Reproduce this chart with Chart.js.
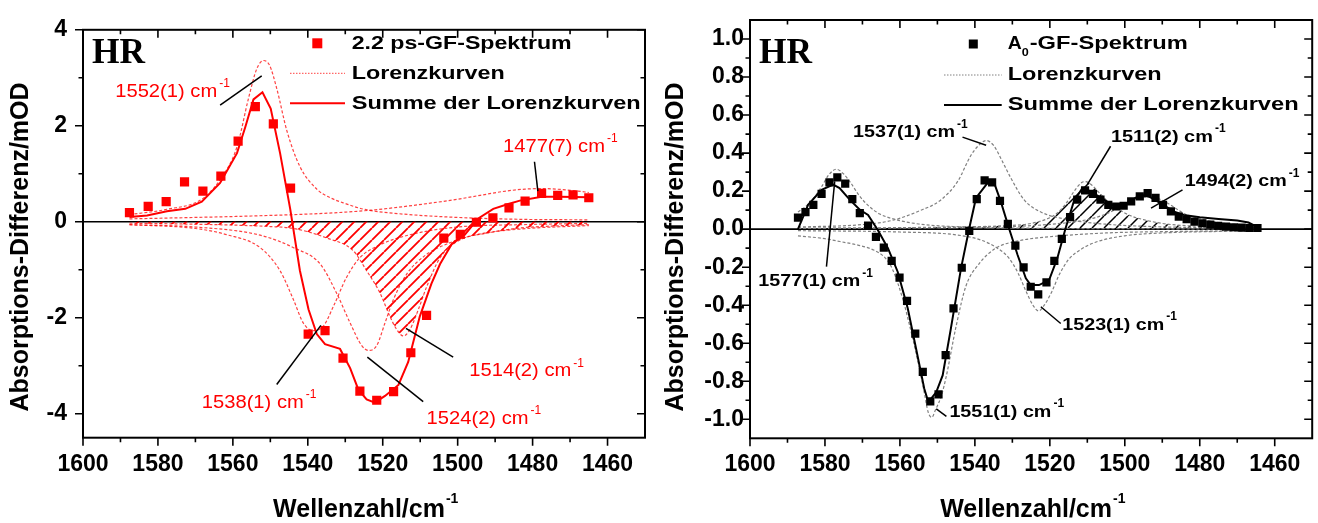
<!DOCTYPE html>
<html>
<head>
<meta charset="utf-8">
<script src="https://cdn.jsdelivr.net/npm/chart.js"></script>
<style>
  html, body { margin: 0; padding: 0; background: #fff; }
  #wrap { position: relative; width: 1318px; height: 523px; overflow: hidden; }
  canvas { position: absolute; top: 0; }
</style>
</head>
<body>
<div id="wrap">
  <canvas id="left" width="660" height="523" style="left:0"></canvas>
  <canvas id="right" width="658" height="523" style="left:660px"></canvas>
</div>
<script>
// ---- axis ticks ----
const xTicks = [1600, 1580, 1560, 1540, 1520, 1500, 1480, 1460];
const xMinor = [1590, 1570, 1550, 1530, 1510, 1490, 1470];
const leftYTicks = [4, 2, 0, -2, -4];
const leftYMinor = [3, 1, -1, -3];
const rightYTicks = [1.0, 0.8, 0.6, 0.4, 0.2, 0.0, -0.2, -0.4, -0.6, -0.8, -1.0];
const rightYMinor = [0.9, 0.7, 0.5, 0.3, 0.1, -0.1, -0.3, -0.5, -0.7, -0.9];

// ---- left panel: 2.2 ps spectrum ----
const leftPointX = [1587.6, 1582.6, 1577.8, 1572.9, 1568.0, 1563.2, 1558.6, 1554.0, 1549.2, 1544.6, 1539.9, 1535.4, 1530.6, 1526.1,
                    1521.6, 1517.1, 1512.5, 1508.3, 1503.7, 1499.3, 1495.0, 1490.6, 1486.3, 1482.0, 1477.6, 1473.3, 1469.2, 1465.0];
const leftPointY = [0.19, 0.32, 0.42, 0.83, 0.64, 0.95, 1.68, 2.40, 2.04, 0.70, -2.34, -2.27, -2.84, -3.53,
                    -3.72, -3.54, -2.73, -1.95, -0.34, -0.26, -0.01, 0.08, 0.29, 0.43, 0.59, 0.55, 0.56, 0.50];

const leftSumX = [1587.6, 1582.9, 1577.6, 1572.7, 1568.3, 1563.4, 1558.9, 1556.7, 1554.5, 1552.1, 1549.9, 1547.4, 1544.7, 1542.1,
                  1539.8, 1537.6, 1535.4, 1531.4, 1528.7, 1526.5, 1524.3, 1522.1, 1519.4, 1515.8, 1513.2, 1510.1, 1507.0, 1504.7,
                  1501.6, 1498.1, 1494.5, 1490.5, 1486.5, 1483.4, 1477.6, 1472.8, 1465.0];
const leftSumY = [0.10, 0.13, 0.22, 0.27, 0.42, 0.81, 1.43, 1.97, 2.55, 2.70, 2.36, 1.43, 0.27, -1.02,
                  -1.83, -2.34, -2.55, -2.65, -3.05, -3.50, -3.70, -3.77, -3.63, -3.40, -2.92, -1.97, -1.29, -0.88,
                  -0.47, -0.27, 0.07, 0.27, 0.37, 0.44, 0.52, 0.52, 0.51];

const l1552X = [1587.6, 1577.6, 1568.3, 1563.4, 1558.9, 1555.8, 1553.6, 1551.8, 1550.2, 1548.3, 1545.6, 1542.1, 1537.6, 1534.0, 1530.0, 1525.0, 1516.0, 1500.0, 1483.0, 1465.0];
const l1552Y = [0.15, 0.26, 0.47, 0.88, 1.56, 2.58, 3.19, 3.36, 3.26, 2.78, 1.90, 1.15, 0.68, 0.50, 0.38, 0.26, 0.17, 0.09, 0.05, 0.04];
const l1477X = [1587.6, 1570, 1555, 1540, 1530, 1522, 1515, 1508, 1500, 1494, 1488, 1482, 1477, 1472, 1468, 1465];
const l1477Y = [0.06, 0.09, 0.12, 0.16, 0.20, 0.25, 0.31, 0.38, 0.47, 0.55, 0.63, 0.68, 0.69, 0.67, 0.64, 0.61];
const l1538X = [1587.6, 1570, 1561.6, 1552.7, 1547.4, 1543.8, 1541.2, 1538.5, 1535.8, 1533.2, 1529.6, 1526.1, 1520.7, 1512.7, 1500, 1483, 1465];
const l1538Y = [-0.06, -0.14, -0.27, -0.54, -1.02, -1.63, -2.11, -2.27, -2.17, -1.77, -1.15, -0.75, -0.48, -0.27, -0.11, -0.06, -0.035];
const l1524X = [1587.6, 1570, 1552.7, 1543.8, 1536.7, 1532.3, 1528.7, 1525.6, 1523.8, 1521.6, 1519.4, 1517.2, 1513.6, 1508.3, 1502.1, 1495, 1483, 1465];
const l1524Y = [-0.06, -0.11, -0.28, -0.54, -0.88, -1.49, -2.11, -2.58, -2.68, -2.58, -2.11, -1.63, -1.09, -0.68, -0.44, -0.27, -0.15, -0.08];
const l1514X = [1587.6, 1565, 1550, 1543.8, 1534.9, 1527.8, 1524.3, 1520.7, 1518.1, 1516.3, 1514.5, 1512.7, 1510.5, 1508.3, 1504.7, 1499.4, 1492.3, 1483.4, 1475, 1465];
const l1514Y = [-0.03, -0.06, -0.10, -0.14, -0.34, -0.61, -1.02, -1.49, -1.97, -2.24, -2.38, -2.24, -1.83, -1.36, -0.75, -0.38, -0.24, -0.13, -0.09, -0.06];

// ---- right panel: A0 spectrum ----
const rightPointX = [1587.2, 1585.2, 1583.1, 1580.9, 1578.8, 1576.7, 1574.6, 1572.7, 1570.7, 1568.5, 1566.4, 1564.3, 1562.2, 1560.1, 1558.1,
                     1555.9, 1553.9, 1551.9, 1549.7, 1547.8, 1545.7, 1543.5, 1541.5, 1539.5, 1537.4, 1535.4, 1533.3, 1531.2, 1529.2, 1527.0,
                     1525.1, 1523.1, 1520.9, 1518.8, 1516.8, 1514.6, 1512.7, 1510.6, 1508.5, 1506.5, 1504.4, 1502.3, 1500.3, 1498.3, 1496.0,
                     1493.9, 1491.8, 1489.8, 1487.7, 1485.6, 1483.5, 1481.4, 1479.3, 1477.2, 1475.1, 1473.0, 1470.9, 1468.8, 1466.7, 1464.6];
const rightPointY = [0.061, 0.090, 0.128, 0.185, 0.246, 0.272, 0.239, 0.158, 0.084, 0.019, -0.041, -0.097, -0.167, -0.255, -0.377,
                     -0.549, -0.751, -0.906, -0.869, -0.663, -0.417, -0.203, -0.009, 0.158, 0.257, 0.246, 0.149, 0.028, -0.087, -0.201,
                     -0.303, -0.343, -0.280, -0.167, -0.051, 0.063, 0.155, 0.204, 0.186, 0.155, 0.128, 0.119, 0.123, 0.146, 0.172,
                     0.190, 0.164, 0.128, 0.093, 0.066, 0.052, 0.040, 0.031, 0.024, 0.018, 0.013, 0.010, 0.008, 0.006, 0.006];

const rightSumX = [1587.2, 1584.5, 1580.9, 1577.8, 1576.1, 1573.4, 1570.7, 1568.5, 1565.9, 1563.2, 1560.6, 1557.9, 1555.7, 1553.5, 1552.4,
                   1550.3, 1548.6, 1546.4, 1543.7, 1541.5, 1539.7, 1536.6, 1535.0, 1533.1, 1530.9, 1528.6, 1526.4, 1525.1, 1522.9, 1520.2,
                   1518.0, 1515.8, 1513.6, 1511.3, 1509.1, 1505.6, 1502.5, 1499.4, 1495.8, 1493.6, 1490.5, 1487.0, 1484.3, 1480.0, 1475.0,
                   1470.0, 1467.0, 1465.0];
const rightSumY = [0.0, 0.128, 0.207, 0.234, 0.216, 0.155, 0.102, 0.075, -0.004, -0.100, -0.224, -0.417, -0.628, -0.839, -0.910,
                   -0.857, -0.769, -0.522, -0.206, 0.005, 0.164, 0.243, 0.251, 0.146, 0.005, -0.136, -0.259, -0.294, -0.294, -0.268,
                   -0.153, 0.005, 0.146, 0.216, 0.198, 0.155, 0.119, 0.137, 0.181, 0.172, 0.137, 0.093, 0.075, 0.062, 0.054,
                   0.045, 0.035, 0.015];

const r1577X = [1587.2, 1584, 1581, 1579, 1577, 1575, 1573, 1571, 1568.5, 1565.4, 1561, 1555, 1545, 1530, 1510, 1490, 1465];
const r1577Y = [0.09, 0.14, 0.22, 0.285, 0.315, 0.29, 0.24, 0.18, 0.125, 0.08, 0.05, 0.027, 0.013, 0.006, 0.003, 0.002, 0.001];
const r1551X = [1587.2, 1580, 1576, 1571, 1567, 1564, 1562, 1559.2, 1557.5, 1555.7, 1553.5, 1552.5, 1551.5, 1550.5, 1549, 1547.7, 1545, 1542.4, 1538.8, 1534.4, 1528, 1520, 1505, 1485, 1465];
const r1551Y = [-0.035, -0.05, -0.065, -0.085, -0.11, -0.15, -0.21, -0.37, -0.50, -0.65, -0.86, -0.96, -0.99, -0.95, -0.88, -0.78, -0.51, -0.30, -0.18, -0.10, -0.06, -0.04, -0.02, -0.012, -0.008];
const r1537X = [1587.2, 1570, 1562.3, 1555.2, 1549, 1544.6, 1541, 1539, 1537, 1535, 1532.5, 1530.4, 1526.9, 1522.4, 1515, 1505, 1490, 1465];
const r1537Y = [0.011, 0.024, 0.045, 0.093, 0.155, 0.251, 0.39, 0.44, 0.466, 0.44, 0.35, 0.269, 0.155, 0.09, 0.05, 0.026, 0.012, 0.007];
const r1523X = [1587.2, 1560, 1545, 1538, 1534, 1531, 1528.5, 1526.5, 1524.5, 1523, 1521.5, 1519.5, 1517.5, 1515, 1512, 1508, 1500, 1490, 1475, 1465];
const r1523Y = [-0.008, -0.015, -0.03, -0.06, -0.10, -0.15, -0.23, -0.32, -0.40, -0.43, -0.40, -0.33, -0.24, -0.16, -0.11, -0.07, -0.035, -0.02, -0.012, -0.009];
const r1511X = [1587.2, 1560, 1540, 1530, 1525, 1520, 1518, 1515.5, 1513.5, 1511.5, 1510.5, 1509, 1507, 1505, 1502, 1499, 1495, 1490, 1485, 1475, 1465];
const r1511Y = [0.004, 0.008, 0.013, 0.02, 0.03, 0.06, 0.085, 0.14, 0.20, 0.245, 0.25, 0.235, 0.195, 0.155, 0.11, 0.075, 0.05, 0.03, 0.02, 0.012, 0.008];
const r1494X = [1587.2, 1540, 1520, 1510, 1505, 1500, 1497, 1494, 1491, 1488, 1484, 1480, 1475, 1470, 1465];
const r1494Y = [0.005, 0.01, 0.025, 0.05, 0.08, 0.13, 0.16, 0.17, 0.16, 0.13, 0.08, 0.055, 0.035, 0.025, 0.02];

// ---- peak labels (text anchor and pointer line, in data units) ----
const leftNotes = [
  { text: '1552(1) cm', at: [1591.4, 2.71], line: [1563.4, 2.43, 1552.3, 3.04] },
  { text: '1477(7) cm', at: [1487.9, 1.56], line: [1479.5, 1.25, 1478.6, 0.64] },
  { text: '1538(1) cm', at: [1568.3, -3.77], line: [1548.3, -3.39, 1536.5, -2.16] },
  { text: '1524(2) cm', at: [1508.3, -4.11], line: [1524.1, -2.82, 1509.2, -3.75] },
  { text: '1514(2) cm', at: [1496.9, -3.12], line: [1513.8, -2.22, 1501.2, -2.82] }
];
const rightNotes = [
  { text: '1537(1) cm', at: [1572.5, 0.507], line: [1543.3, 0.484, 1537.0, 0.441] },
  { text: '1511(2) cm', at: [1503.7, 0.485], line: [1503.8, 0.436, 1510.0, 0.234] },
  { text: '1494(2) cm', at: [1484.0, 0.251], line: [1484.6, 0.207, 1493.0, 0.111] },
  { text: '1577(1) cm', at: [1597.8, -0.276], line: [1579.6, -0.197, 1577.4, 0.251] },
  { text: '1551(1) cm', at: [1546.8, -0.962], line: [1550.3, -0.945, 1547.6, -0.985] },
  { text: '1523(1) cm', at: [1516.7, -0.505], line: [1522.4, -0.408, 1517.1, -0.496] }
];

Chart.defaults.font.family = '"Liberation Sans", Arial, sans-serif';
const RED = '#ff0000';

const xy = (xs, ys) => xs.map((x, i) => ({ x: x, y: ys[i] }));

function hatch(color, lw, s) {
  const c = document.createElement('canvas');
  c.width = s; c.height = s;
  const g = c.getContext('2d');
  g.strokeStyle = color; g.lineWidth = lw;
  g.beginPath();
  [-s, 0, s].forEach(o => { g.moveTo(o, s); g.lineTo(o + s, 0); });
  g.stroke();
  return g.createPattern(c, 'repeat');
}

function lorentz(xs, ys, color, extra) {
  return Object.assign({
    data: xy(xs, ys), borderColor: color, borderWidth: 1.2, borderDash: [3, 2],
    pointRadius: 0, fill: false, cubicInterpolationMode: 'monotone'
  }, extra || {});
}

// text squeezed/stretched to a given width, left anchored, vertically centred
function wideText(ctx, text, x, y, font, width) {
  ctx.save();
  ctx.font = font;
  ctx.textAlign = 'left';
  ctx.textBaseline = 'middle';
  const w = ctx.measureText(text).width;
  const sx = width ? width / w : 1;
  ctx.translate(x, y);
  ctx.scale(sx, 1);
  ctx.fillText(text, 0, 0);
  ctx.restore();
  return w * sx;
}

function makeDecor(cfg) {
  return {
    id: 'decor',
    beforeDatasetsDraw(chart) {
      const { ctx, chartArea: a, scales } = chart;
      const y0 = scales.y.getPixelForValue(0);
      ctx.save();
      ctx.strokeStyle = '#000'; ctx.lineWidth = 1.6;
      ctx.beginPath(); ctx.moveTo(a.left, y0); ctx.lineTo(a.right, y0); ctx.stroke();
      ctx.restore();
    },
    afterDraw(chart) {
      const { ctx, chartArea: a, scales } = chart;
      const sx = scales.x, sy = scales.y;
      ctx.save();
      // frame
      ctx.strokeStyle = '#000';
      ctx.lineWidth = 2;
      ctx.strokeRect(a.left, a.top, a.right - a.left, a.bottom - a.top);
      // ticks: out on bottom/left, in on top/right
      ctx.lineWidth = 1.6;
      ctx.beginPath();
      const xt = (vals, len) => vals.forEach(v => {
        const p = sx.getPixelForValue(v);
        ctx.moveTo(p, a.bottom); ctx.lineTo(p, a.bottom + len);
        ctx.moveTo(p, a.top); ctx.lineTo(p, a.top + len);
      });
      const yt = (vals, len) => vals.forEach(v => {
        const p = sy.getPixelForValue(v);
        ctx.moveTo(a.left - len, p); ctx.lineTo(a.left, p);
        ctx.moveTo(a.right - len, p); ctx.lineTo(a.right, p);
      });
      xt(xTicks, 8); xt(xMinor, 4.5);
      yt(cfg.yTicks, 8); yt(cfg.yMinor, 4.5);
      ctx.stroke();

      // axis titles
      ctx.fillStyle = '#000';
      const cx = (a.left + a.right) / 2;
      ctx.font = 'bold 25px "Liberation Sans", Arial, sans-serif';
      const tw = ctx.measureText('Wellenzahl/cm').width;
      const tx = cx - (tw + 10) / 2;
      wideText(ctx, 'Wellenzahl/cm', tx, 510, 'bold 25px "Liberation Sans", Arial, sans-serif');
      wideText(ctx, '-1', tx + tw + 1, 499, 'bold 14px "Liberation Sans", Arial, sans-serif');
      ctx.save();
      ctx.translate(cfg.yTitleX, 247);
      ctx.rotate(-Math.PI / 2);
      ctx.font = 'bold 25px "Liberation Sans", Arial, sans-serif';
      ctx.textAlign = 'center'; ctx.textBaseline = 'middle';
      ctx.fillText('Absorptions-Differenz/mOD', 0, 0);
      ctx.restore();

      // HR label
      ctx.save();
      ctx.font = 'bold 35px "Liberation Serif", "Times New Roman", serif';
      ctx.textBaseline = 'alphabetic';
      const hw = ctx.measureText('HR').width;
      ctx.translate(a.left + 9, 63.3);
      ctx.scale(53 / hw, 1);
      ctx.fillText('HR', 0, 0);
      ctx.restore();

      // legend
      const L = cfg.legend;
      const lf = 'bold 19px "Liberation Sans", Arial, sans-serif';
      ctx.fillStyle = cfg.mark;
      ctx.fillRect(L.markX - L.mark / 2, L.rows[0] - L.mark / 2, L.mark, L.mark);
      ctx.fillStyle = '#000';
      if (cfg.sub) {
        const wa = wideText(ctx, 'A', L.textX, L.rows[0], lf, 14);
        const ws = wideText(ctx, '0', L.textX + wa, L.rows[0] + 9, 'bold 11px "Liberation Sans", Arial, sans-serif', 7);
        wideText(ctx, '-GF-Spektrum', L.textX + wa + ws + 1, L.rows[0], lf, L.widths[0] - wa - ws - 1);
      } else {
        wideText(ctx, cfg.seriesName, L.textX, L.rows[0], lf, L.widths[0]);
      }
      wideText(ctx, 'Lorenzkurven', L.textX, L.rows[1], lf, L.widths[1]);
      wideText(ctx, 'Summe der Lorenzkurven', L.textX, L.rows[2], lf, L.widths[2]);
      ctx.strokeStyle = cfg.dotted;
      ctx.lineWidth = 1;
      ctx.setLineDash([1.5, 1.5]);
      ctx.beginPath(); ctx.moveTo(L.sample[0], L.rows[1]); ctx.lineTo(L.sample[1], L.rows[1]); ctx.stroke();
      ctx.setLineDash([]);
      ctx.strokeStyle = cfg.mark;
      ctx.lineWidth = 2;
      ctx.beginPath(); ctx.moveTo(L.sample[0], L.rows[2]); ctx.lineTo(L.sample[1], L.rows[2]); ctx.stroke();

      // peak labels
      cfg.notes.forEach(n => {
        ctx.strokeStyle = '#000';
        ctx.lineWidth = 1.5;
        ctx.beginPath();
        ctx.moveTo(sx.getPixelForValue(n.line[0]), sy.getPixelForValue(n.line[1]));
        ctx.lineTo(sx.getPixelForValue(n.line[2]), sy.getPixelForValue(n.line[3]));
        ctx.stroke();
        ctx.fillStyle = cfg.noteColor;
        const px = sx.getPixelForValue(n.at[0]), py = sy.getPixelForValue(n.at[1]);
        const w = wideText(ctx, n.text, px, py, cfg.noteFont, 102);
        wideText(ctx, '-1', px + w + 2, py - 8, cfg.supFont);
      });
      ctx.restore();
    }
  };
}

function panel(id, cfg) {
  const canvas = document.getElementById(id);
  const W = canvas.width, H = canvas.height, box = cfg.box;
  return new Chart(canvas, {
    type: 'line',
    data: { datasets: cfg.datasets },
    options: {
      responsive: false,
      animation: false,
      devicePixelRatio: 1,
      layout: { padding: { left: 0, top: box.top, right: W - box.right, bottom: 0 } },
      plugins: { legend: { display: false }, tooltip: { enabled: false } },
      scales: {
        x: {
          type: 'linear', reverse: true, min: 1450, max: 1600,
          afterFit: s => { s.height = H - box.bottom; },
          afterBuildTicks: s => { s.ticks = xTicks.map(v => ({ value: v })); },
          grid: { display: false, drawTicks: false },
          border: { display: false },
          ticks: { autoSkip: false, maxRotation: 0, padding: 13, color: '#000',
                   font: { size: 23, weight: 'bold' }, callback: v => String(v) }
        },
        y: {
          type: 'linear', min: cfg.yMin, max: cfg.yMax,
          afterFit: s => { s.width = box.left; },
          afterBuildTicks: s => { s.ticks = cfg.yTicks.map(v => ({ value: v })); },
          grid: { display: false, drawTicks: false },
          border: { display: false },
          ticks: { autoSkip: false, padding: cfg.yPad, color: '#000',
                   font: { size: 23, weight: 'bold' }, callback: cfg.yFmt }
        }
      }
    },
    plugins: [makeDecor(cfg)]
  });
}

// left chart
const lDot = 'rgba(255,0,0,0.75)';
panel('left', {
  box: { left: 83, right: 645, top: 21.7, bottom: 437.7 },
  yMin: -4.5, yMax: 4, yTicks: leftYTicks, yMinor: leftYMinor, yPad: 16,
  yFmt: v => String(v), yTitleX: 21,
  mark: RED, dotted: lDot, seriesName: '2.2 ps-GF-Spektrum', sub: false,
  legend: { markX: 317.3, mark: 10, textX: 351.7, rows: [43.3, 73.3, 103.3], widths: [220, 153, 289], sample: [290, 345] },
  notes: leftNotes, noteColor: RED,
  noteFont: '18px "Liberation Sans", Arial, sans-serif',
  supFont: '12px "Liberation Sans", Arial, sans-serif',
  datasets: [
    { label: '2.2 ps-GF-Spektrum', data: xy(leftPointX, leftPointY), showLine: false, pointStyle: 'rect',
      pointRadius: 6.5, pointBackgroundColor: RED, pointBorderWidth: 0, borderColor: RED, backgroundColor: RED },
    { label: 'Summe der Lorenzkurven', data: xy(leftSumX, leftSumY), borderColor: RED, borderWidth: 2,
      pointRadius: 0, tension: 0, fill: false },
    lorentz(l1552X, l1552Y, lDot),
    lorentz(l1477X, l1477Y, lDot),
    lorentz(l1538X, l1538Y, lDot),
    lorentz(l1524X, l1524Y, lDot),
    lorentz(l1514X, l1514Y, lDot, { fill: 'origin', backgroundColor: hatch(RED, 1.8, 12) })
  ]
});

// right chart
const rDot = '#808080';
panel('right', {
  box: { left: 90, right: 654, top: 20, bottom: 438.3 },
  yMin: -1.1, yMax: 1.1, yTicks: rightYTicks, yMinor: rightYMinor, yPad: 6,
  yFmt: v => v.toFixed(1), yTitleX: 16,
  mark: '#000', dotted: rDot, seriesName: 'A0-GF-Spektrum', sub: true,
  legend: { markX: 313.3, mark: 9, textX: 347.7, rows: [44, 75, 105], widths: [180, 154, 291], sample: [284, 341.7] },
  notes: rightNotes, noteColor: '#000',
  noteFont: 'bold 17px "Liberation Sans", Arial, sans-serif',
  supFont: 'bold 12px "Liberation Sans", Arial, sans-serif',
  datasets: [
    { label: 'A0-GF-Spektrum', data: xy(rightPointX, rightPointY), showLine: false, pointStyle: 'rect',
      pointRadius: 5.8, pointBackgroundColor: '#000', pointBorderWidth: 0, borderColor: '#000', backgroundColor: '#000' },
    { label: 'Summe der Lorenzkurven', data: xy(rightSumX, rightSumY), borderColor: '#000', borderWidth: 2,
      pointRadius: 0, tension: 0, fill: false },
    lorentz(r1577X, r1577Y, rDot),
    lorentz(r1551X, r1551Y, rDot),
    lorentz(r1537X, r1537Y, rDot),
    lorentz(r1523X, r1523Y, rDot),
    lorentz(r1494X, r1494Y, rDot),
    lorentz(r1511X, r1511Y, rDot, { fill: 'origin', backgroundColor: hatch('#000', 1.5, 12) })
  ]
});
</script>
</body>
</html>
